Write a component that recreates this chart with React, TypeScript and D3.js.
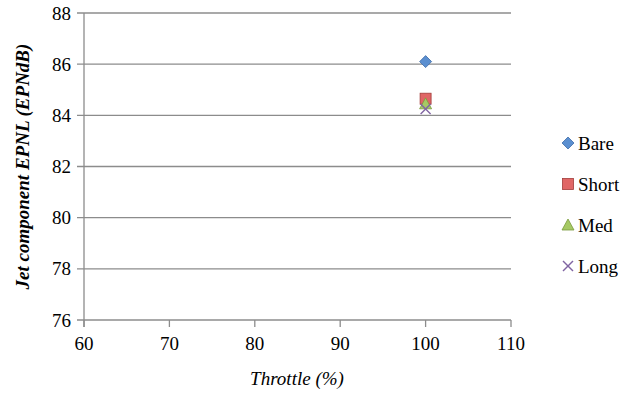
import React from "react";
import * as d3 from "d3";

const seriesNames = ["Bare", "Short", "Med", "Long"];
const throttle = [100, 100, 100, 100];
const epnl = [86.1, 84.65, 84.45, 84.25];
const xTicks = [60, 70, 80, 90, 100, 110];
const yTicks = [76, 78, 80, 82, 84, 86, 88];
const fills = ["#5B8FD0", "#E06666", "#A6C964", "#8064A2"];
const strokes = ["#3F6CA8", "#A23C3A", "#7A9A3C", "#8064A2"];

const W = 630, H = 394;
const left = 84, right = 511, top = 13, bottom = 320;
const FF = "serif";

function Marker({ i, x, y }: { i: number; x: number; y: number }) {
  const f = fills[i], s = strokes[i];
  if (i === 0) {
    const r = 6;
    return <path d={`M${x},${y - r}L${x + r},${y}L${x},${y + r}L${x - r},${y}Z`} fill={f} stroke={s} strokeWidth={0.8} />;
  }
  if (i === 1) {
    return <rect x={x - 5.5} y={y - 5.5} width={11} height={11} fill={f} stroke={s} strokeWidth={0.8} />;
  }
  if (i === 2) {
    return <path d={`M${x},${y - 6}L${x + 6},${y + 5}L${x - 6},${y + 5}Z`} fill={f} stroke={s} strokeWidth={0.8} />;
  }
  const r = 5;
  return (
    <g stroke={s} strokeWidth={1.4}>
      <line x1={x - r} y1={y - r} x2={x + r} y2={y + r} />
      <line x1={x - r} y1={y + r} x2={x + r} y2={y - r} />
    </g>
  );
}

export default function App() {
  const xs = d3.scaleLinear().domain([60, 110]).range([left, right]);
  const ys = d3.scaleLinear().domain([76, 88]).range([bottom, top]);
  const grid = "#8C8C8C";
  return (
    <svg width={W} height={H} style={{ position: "absolute", left: 0, top: 0, background: "#fff", fontFamily: FF, fontSize: "19px" }}>
      {yTicks.map((t) => (
        <g key={"y" + t}>
          <line x1={left - 7} x2={right} y1={ys(t)} y2={ys(t)} stroke={grid} strokeWidth={1.3} />
          <text x={left - 13} y={ys(t) + 6.5} textAnchor="end" style={{ fontFamily: FF, fontSize: "19px" }}>{String(t)}</text>
        </g>
      ))}
      <line x1={left} x2={left} y1={top} y2={bottom + 7} stroke={grid} strokeWidth={1.3} />
      {xTicks.map((t) => (
        <g key={"x" + t}>
          <line x1={xs(t)} x2={xs(t)} y1={bottom} y2={bottom + 7} stroke={grid} strokeWidth={1.3} />
          <text x={xs(t)} y={bottom + 30} textAnchor="middle" style={{ fontFamily: FF, fontSize: "19px" }}>{String(t)}</text>
        </g>
      ))}
      <text x={297} y={385} textAnchor="middle" style={{ fontFamily: FF, fontSize: "19px", fontStyle: "italic" }}>Throttle (%)</text>
      <text transform={`translate(29,${(top + bottom) / 2}) rotate(-90)`} textAnchor="middle" style={{ fontFamily: FF, fontSize: "19px", fontStyle: "italic", fontWeight: "bold" }}>Jet component EPNL (EPNdB)</text>
      {seriesNames.map((n, i) => (
        <Marker key={n} i={i} x={xs(throttle[i])} y={ys(epnl[i])} />
      ))}
      {seriesNames.map((n, i) => {
        const ly = 143 + i * 41;
        return (
          <g key={"l" + n}>
            <Marker i={i} x={568} y={ly} />
            <text x={578} y={ly + 6.5} style={{ fontFamily: FF, fontSize: "19px" }}>{n}</text>
          </g>
        );
      })}
    </svg>
  );
}
